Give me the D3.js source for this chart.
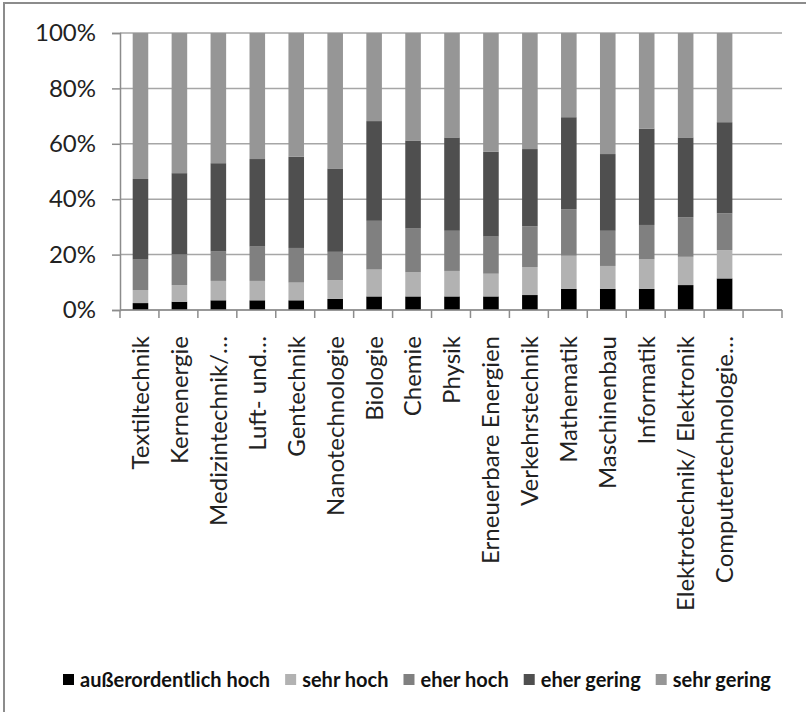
<!DOCTYPE html>
<html>
<head>
<meta charset="utf-8">
<script src="https://cdn.jsdelivr.net/npm/d3@7"></script>
<style>
  body { margin: 0; background: #fff; }
  svg { display: block; font-family: Lato, "Open Sans", sans-serif; }
</style>
</head>
<body>
<div id="chart"></div>
<script>
// Fächer (Kategorien)
const categories = [
  "Textiltechnik", "Kernenergie", "Medizintechnik/…", "Luft- und…", "Gentechnik",
  "Nanotechnologie", "Biologie", "Chemie", "Physik", "Erneuerbare Energien",
  "Verkehrstechnik", "Mathematik", "Maschinenbau", "Informatik",
  "Elektrotechnik/ Elektronik", "Computertechnologie…"
];

// Anteile in % je Kategorie
const ausserordentlichHoch = [2.5, 3.0, 3.5, 3.5, 3.5, 4.0, 4.9, 4.9, 4.9, 4.9, 5.4, 7.6, 7.6, 7.6, 9.0, 11.4];
const sehrHoch             = [4.7, 6.0, 7.0, 7.0, 6.4, 6.8, 9.7, 8.7, 9.2, 8.2, 10.1, 12.0, 8.3, 10.7, 10.2, 10.2];
const eherHoch             = [11.0, 11.1, 10.6, 12.4, 12.5, 10.2, 17.6, 15.8, 14.5, 13.4, 14.7, 16.8, 12.7, 12.4, 14.3, 13.3];
const eherGering           = [29.1, 29.3, 31.9, 31.6, 32.9, 30.1, 36.0, 31.8, 33.7, 30.6, 27.9, 33.2, 27.7, 34.8, 28.8, 32.9];
const sehrGering           = [52.7, 50.6, 47.0, 45.5, 44.7, 48.9, 31.8, 38.8, 37.7, 42.9, 41.9, 30.4, 43.7, 34.5, 37.7, 32.2];

const seriesNames = ["außerordentlich hoch", "sehr hoch", "eher hoch", "eher gering", "sehr gering"];
const seriesValues = [ausserordentlichHoch, sehrHoch, eherHoch, eherGering, sehrGering];
const colors = ["#000000", "#b2b2b2", "#808080", "#4f4f4f", "#969696"];

const yTicks = [0, 0.2, 0.4, 0.6, 0.8, 1];

const width = 806, height = 712;
const plot = { left: 120, right: 782, top: 33, bottom: 310 };

// Tabelle für d3.stack
const rows = categories.map((c, i) => {
  const r = { cat: c };
  seriesNames.forEach((s, k) => r[s] = seriesValues[k][i]);
  return r;
});

const svg = d3.select("#chart").append("svg")
  .attr("width", width)
  .attr("height", height);

// Rahmen des Diagrammbereichs
svg.append("rect")
  .attr("x", 4).attr("y", 3)
  .attr("width", 900).attr("height", 900)
  .attr("fill", "none")
  .attr("stroke", "#8c8c8c")
  .attr("stroke-width", 2);

// 16 Kategorien + ein leerer Platz am Ende
const x = d3.scaleBand()
  .domain(categories.concat([""]))
  .range([plot.left, plot.right])
  .padding(0);

const y = d3.scaleLinear()
  .domain([0, 1])
  .range([plot.bottom, plot.top]);

// Gitterlinien
svg.append("g")
  .selectAll("line")
  .data(yTicks)
  .join("line")
  .attr("x1", plot.left).attr("x2", plot.right)
  .attr("y1", d => y(d)).attr("y2", d => y(d))
  .attr("stroke", "#a6a6a6")
  .attr("stroke-width", 1.5);

// Y-Achse
const yAxis = svg.append("g")
  .attr("transform", `translate(${plot.left},0)`)
  .call(d3.axisLeft(y).tickValues(yTicks).tickFormat(d3.format(".0%")).tickSize(8).tickPadding(16));
yAxis.select(".domain").attr("stroke", "#8c8c8c").attr("stroke-width", 1.5);
yAxis.selectAll(".tick line").attr("stroke", "#8c8c8c").attr("stroke-width", 1.5);
yAxis.selectAll("text")
  .attr("font-family", "Lato, sans-serif")
  .attr("font-size", 24)
  .attr("fill", "#222");

// gestapelte Balken
const stacked = d3.stack()
  .keys(seriesNames)
  .offset(d3.stackOffsetExpand)(rows);

const barW = x.bandwidth() * 0.4;

svg.append("g")
  .selectAll("g")
  .data(stacked)
  .join("g")
  .attr("fill", (d, i) => colors[i])
  .selectAll("rect")
  .data(d => d)
  .join("rect")
  .attr("x", d => x(d.data.cat) + x.bandwidth() / 2 - barW / 2 + 1)
  .attr("y", d => y(d[1]))
  .attr("width", barW)
  .attr("height", d => y(d[0]) - y(d[1]));

// X-Achse
const xAxis = svg.append("g");
xAxis.append("line")
  .attr("x1", plot.left).attr("x2", plot.right)
  .attr("y1", plot.bottom).attr("y2", plot.bottom)
  .attr("stroke", "#8c8c8c")
  .attr("stroke-width", 1.5);
xAxis.selectAll(".xt")
  .data(x.domain().map(d => x(d)).concat([plot.right]))
  .join("line")
  .attr("class", "xt")
  .attr("x1", d => d).attr("x2", d => d)
  .attr("y1", plot.bottom).attr("y2", plot.bottom + 8)
  .attr("stroke", "#8c8c8c")
  .attr("stroke-width", 1.5);

xAxis.selectAll("text")
  .data(categories)
  .join("text")
  .attr("transform", d => `translate(${x(d) + x.bandwidth() / 2 + 1},${plot.bottom + 26}) rotate(-90)`)
  .attr("dy", "0.35em")
  .attr("text-anchor", "end")
  .attr("font-size", 24)
  .attr("fill", "#222")
  .text(d => d);

// Legende
const legend = svg.append("g")
  .attr("transform", "translate(63,680)");
let lx = 0;
seriesNames.forEach((s, i) => {
  const item = legend.append("g").attr("transform", `translate(${lx},0)`);
  item.append("rect")
    .attr("x", 0).attr("y", -6)
    .attr("width", 11).attr("height", 11)
    .attr("fill", colors[i]);
  const t = item.append("text")
    .attr("x", 17)
    .attr("dy", "0.35em")
    .attr("font-size", 20)
    .attr("font-weight", 700)
    .attr("fill", "#111")
    .text(s);
  lx += 17 + t.node().getComputedTextLength() + 15;
});
</script>
</body>
</html>
